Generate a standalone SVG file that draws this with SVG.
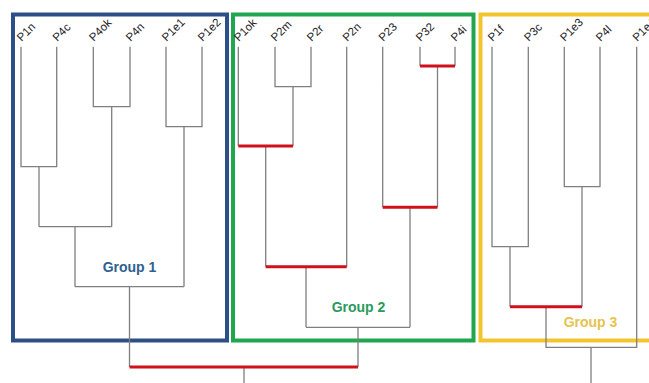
<svg xmlns="http://www.w3.org/2000/svg" width="649" height="383" viewBox="0 0 649 383">
<style>
.box{fill:none;stroke-width:4}
.lbl{font-family:"Liberation Sans",Arial,sans-serif;font-size:11.5px;fill:#222}
.grp{font-family:"Liberation Sans",Arial,sans-serif;font-size:14px;font-weight:bold;text-anchor:middle}
.ln{fill:none;stroke:#7f7f7f;stroke-width:1.3}
.red{fill:none;stroke:#d0111b;stroke-width:3}
</style>
<rect width="649" height="383" fill="#fff"/>
<g id="group1"><rect class="box" x="13" y="14.5" width="214" height="326" stroke="#2c4f86"/><text class="grp" x="129.5" y="272" fill="#2e6290">Group 1</text></g>
<g id="group2"><rect class="box" x="233" y="14.5" width="240.5" height="326" stroke="#1fa64e"/><text class="grp" x="358.5" y="312" fill="#2a9a5e">Group 2</text></g>
<g id="group3"><rect class="box" x="480.5" y="14.5" width="175" height="326" stroke="#f3c52c"/><text class="grp" x="590.5" y="327" fill="#e6c44e">Group 3</text></g>
<g id="leaves">
<g id="P1n"><text class="lbl" transform="translate(21.5,42) rotate(-45)">P1n</text></g>
<g id="P4c"><text class="lbl" transform="translate(57.2,42) rotate(-45)">P4c</text></g>
<g id="P4ok"><text class="lbl" transform="translate(93.8,42) rotate(-45)">P4ok</text></g>
<g id="P4n"><text class="lbl" transform="translate(130.5,42) rotate(-45)">P4n</text></g>
<g id="P1e1"><text class="lbl" transform="translate(166.5,42) rotate(-45)">P1e1</text></g>
<g id="P1e2"><text class="lbl" transform="translate(202.5,42) rotate(-45)">P1e2</text></g>
<g id="P1ok"><text class="lbl" transform="translate(238.8,42) rotate(-45)">P1ok</text></g>
<g id="P2m"><text class="lbl" transform="translate(275.5,42) rotate(-45)">P2m</text></g>
<g id="P2r"><text class="lbl" transform="translate(311.5,42) rotate(-45)">P2r</text></g>
<g id="P2n"><text class="lbl" transform="translate(347.2,42) rotate(-45)">P2n</text></g>
<g id="P23"><text class="lbl" transform="translate(383.2,42) rotate(-45)">P23</text></g>
<g id="P32"><text class="lbl" transform="translate(420.5,42) rotate(-45)">P32</text></g>
<g id="P4i"><text class="lbl" transform="translate(455.5,42) rotate(-45)">P4i</text></g>
<g id="P1f"><text class="lbl" transform="translate(492.5,42) rotate(-45)">P1f</text></g>
<g id="P3c"><text class="lbl" transform="translate(528.8,42) rotate(-45)">P3c</text></g>
<g id="P1e3"><text class="lbl" transform="translate(564.8,42) rotate(-45)">P1e3</text></g>
<g id="P4l"><text class="lbl" transform="translate(600.5,42) rotate(-45)">P4l</text></g>
<g id="P1e4"><text class="lbl" transform="translate(637.2,42) rotate(-45)">P1e4</text></g>
</g>
<g id="connectors">
<path class="ln" d="M21,46.7V166.7H56.7V46.7 M39,166.7V226.7 M93.3,46.7V106.7H130V46.7 M111.7,106.7V226.7 M39,226.7H111.7 M75,226.7V286.7 M166,46.7V126.7H202V46.7 M184,126.7V286.7 M75,286.7H184 M129.5,286.7V367"/>
<path class="ln" d="M238.3,46.7V146 M275,46.7V86.7H311V46.7 M293,86.7V146 M265.7,146V266.7 M346.7,46.7V266.7 M306,266.7V327.3 M382.7,46.7V207.3 M420,46.7V66 M455,46.7V66 M437.5,66V207.3 M410,207.3V327.3 M306,327.3H410 M358,327.3V367 M244,367V383"/>
<path class="ln" d="M492,46.7V246.7H528.3V46.7 M510,246.7V306.7 M564.3,46.7V186.7H600V46.7 M582,186.7V306.7 M546,306.7V347.3H636.7V46.7 M591,347.3V383"/>
<path class="red" d="M238.3,146H293 M265.7,266.7H346.7 M420,66H455 M382.7,207.3H437.5 M129.5,367H358 M510,306.7H582"/>
</g>
</svg>
